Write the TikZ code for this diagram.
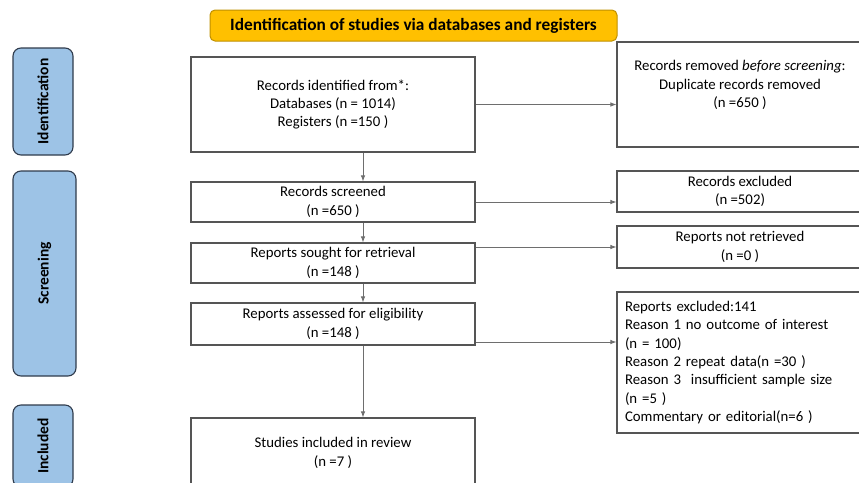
\documentclass[tikz,border=0pt]{standalone}
\usepackage{fontspec}
\setmainfont{Carlito}
\usetikzlibrary{arrows.meta}
\definecolor{bannergold}{HTML}{FFC000}
\definecolor{bannerrim}{HTML}{BF9000}
\definecolor{phaseblue}{HTML}{9DC3E6}
\definecolor{phaserim}{HTML}{2F3B4C}
\definecolor{boxrim}{HTML}{555555}
\definecolor{linkgray}{HTML}{6E6E6E}
\tikzset{
  box/.style={draw=boxrim,line width=1.1pt,fill=white,align=center,inner sep=0pt,
    font=\fontsize{14.8}{18.3}\selectfont},
  phase/.style={draw=phaserim,line width=1.1pt,fill=phaseblue,rounded corners=8pt,
    rotate=90,inner sep=0pt,font=\fontsize{15.5}{18}\selectfont\bfseries},
  link/.style={draw=linkgray,line width=0.9pt,-{Latex[length=6pt,width=4.5pt]}}
}
\begin{document}
\begin{tikzpicture}[x=1pt,y=-1pt]
\useasboundingbox (0,0) rectangle (859,482);
\clip (0,0) rectangle (859,482);
% title banner
\node[draw=bannerrim,line width=1pt,fill=bannergold,rounded corners=5pt,
  minimum width=407,minimum height=31,inner sep=0pt,
  font=\fontsize{17.3}{20}\selectfont\bfseries] (title) at (413.5,25.5)
  {Identification of studies via databases and registers};
% phase labels
\node[phase,minimum width=107,minimum height=60] (phid) at (43,101.5) {Identification};
\node[phase,minimum width=205,minimum height=63] (phscr) at (44.5,273.5) {Screening};
\node[phase,minimum width=82,minimum height=60] (phinc) at (43,446) {Included};
% main column
\node[box,minimum width=284,minimum height=95] (ident) at (333,104.5)
  {Records identified from*:\\Databases (n = 1014)\\Registers (n =150 )};
\node[box,minimum width=284,minimum height=40] (screen) at (333,202)
  {Records screened\\(n =650 )};
\node[box,minimum width=284,minimum height=40] (sought) at (333,263)
  {Reports sought for retrieval\\(n =148 )};
\node[box,minimum width=284,minimum height=42] (assess) at (333,324)
  {Reports assessed for eligibility\\(n =148 )};
\node[box,minimum width=284,minimum height=70] (incl) at (333,453)
  {Studies included in review\\(n =7 )};
% right column
\node[box,minimum width=246,minimum height=105] (remov) at (740,94.5) {};
\node[box,draw=none,fill=none] (removt) at (740,85)
  {Records removed \textit{before screening}:\\Duplicate records removed\\(n =650 )};
\node[box,minimum width=246,minimum height=41] (rexcl) at (740,191.5)
  {Records excluded\\(n =502)};
\node[box,minimum width=246,minimum height=42] (notret) at (740,247)
  {Reports not retrieved\\(n =0 )};
\node[box,minimum width=246,minimum height=141,text width=230,inner xsep=8pt,align=left] (rpexcl) at (740,362.5)
  {Reports excluded:141\\Reason 1 no outcome of interest\\(n = 100)\\Reason 2 repeat data(n =30 )\\
   Reason 3\ \ insufficient sample size\\(n =5 )\\Commentary or editorial(n=6 )};
% connectors
\coordinate (spine) at (363,0);
\coordinate (cut3) at (0,342);
\draw[link] (ident.south -| spine) -- (screen.north -| spine);
\draw[link] (screen.south -| spine) -- (sought.north -| spine);
\draw[link] (sought.south -| spine) -- (assess.north -| spine);
\draw[link] (assess.south -| spine) -- (incl.north -| spine);
\draw[link] (ident.east) -- (remov.west |- ident.east);
\draw[link] (screen.east) -- (rexcl.west |- screen.east);
\draw[link] (sought.east |- notret.west) -- (notret.west);
\draw[link] (assess.east |- cut3) -- (rpexcl.west |- cut3);
\end{tikzpicture}
\end{document}
